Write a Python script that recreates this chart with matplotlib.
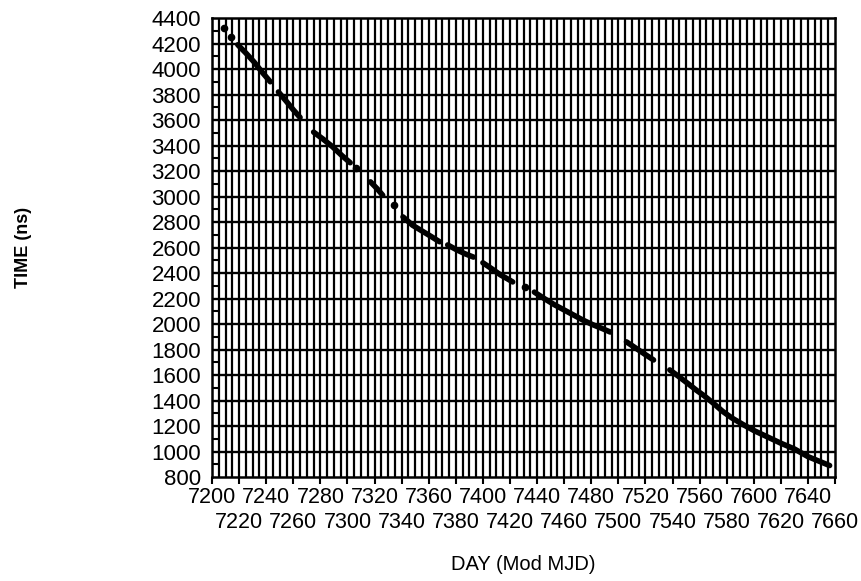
import matplotlib.pyplot as plt
import matplotlib.transforms as mtransforms
import numpy as np

plt.rcParams['font.family'] = ['Liberation Sans', 'DejaVu Sans']

# segment id, day, time (ns)
seg = [0,
       1,
       2, 2, 2, 2, 2,
       3, 3, 3, 3,
       4, 4, 4, 4, 4,
       5,
       6, 6, 6,
       7,
       8, 8, 8, 8, 8,
       9, 9, 9, 9,
       10, 10, 10, 10, 10,
       11,
       12, 12, 12, 12, 12, 12, 12, 12, 12,
       13, 13, 13, 13,
       14, 14, 14, 14, 14, 14, 14, 14, 14, 14, 14, 14, 14, 14, 14, 14]
day = [7209,
       7214,
       7219, 7225, 7231, 7237, 7243,
       7249, 7255, 7260, 7265,
       7275, 7282, 7289, 7296, 7302,
       7306,
       7317, 7322, 7326,
       7334,
       7341, 7348, 7355, 7362, 7368,
       7374, 7381, 7387, 7393,
       7400, 7407, 7413, 7418, 7422,
       7431,
       7438, 7446, 7453, 7460, 7467, 7474, 7481, 7488, 7494,
       7506, 7513, 7520, 7526,
       7538, 7545, 7552, 7558, 7563, 7570, 7577, 7584, 7592, 7600, 7610, 7620,
       7630, 7640, 7648, 7656]
time_ns = [4320,
           4250,
           4190, 4125, 4055, 3975, 3900,
           3820, 3745, 3680, 3620,
           3505, 3450, 3390, 3320, 3265,
           3220,
           3115, 3060, 3010,
           2935,
           2840, 2775, 2730, 2685, 2645,
           2620, 2580, 2550, 2525,
           2480, 2430, 2385, 2355, 2330,
           2290,
           2250, 2195, 2150, 2110, 2070, 2030, 1995, 1965, 1937,
           1860, 1810, 1760, 1718,
           1640, 1585, 1528, 1478, 1440, 1380, 1315, 1262, 1212, 1165, 1115, 1065,
           1020, 960, 925, 890]

xticks_top = list(range(7200, 7661, 40))
xticks_bottom = list(range(7220, 7661, 40))
yticks = list(range(800, 4401, 200))

seg = np.array(seg)
day = np.array(day)
time_ns = np.array(time_ns)

fig = plt.figure(figsize=(8.62, 5.81), dpi=100)
ax = fig.add_axes([0.246, 0.179, 0.7227, 0.790])

# dense graph-paper grid
for x in range(7205, 7660, 5):
    ax.axvline(x, color='black', lw=1.6, zorder=1)
for y in yticks[1:-1]:
    ax.axhline(y, color='black', lw=1.7, zorder=1)

for s in np.unique(seg):
    m = seg == s
    if m.sum() == 1:
        ax.plot(day[m], time_ns[m], 'o', color='black', ms=4.5, zorder=3)
    else:
        ax.plot(day[m], time_ns[m], '-', color='black', lw=4,
                solid_capstyle='round', zorder=3)

ax.set_xlim(7200, 7660)
ax.set_ylim(800, 4400)

# labels alternate between two rows
ax.set_xticks(xticks_top)
ax.set_xticklabels([str(v) for v in xticks_top])
ax.set_xticks(xticks_bottom, minor=True)
ax.set_xticklabels([str(v) for v in xticks_bottom], minor=True)
shift = mtransforms.ScaledTranslation(-0.05, 0, fig.dpi_scale_trans)
for t in ax.get_xticklabels() + ax.get_xticklabels(minor=True):
    t.set_transform(t.get_transform() + shift)
ax.tick_params(axis='x', which='major', direction='out', length=5, width=1.5,
               labelsize=15.5, pad=2)
ax.tick_params(axis='x', which='minor', direction='out', length=5, width=1.5,
               labelsize=15.5, pad=20)

ax.set_yticks(yticks)
ax.set_yticks(list(range(900, 4400, 200)), minor=True)
ax.tick_params(axis='y', which='major', length=0, labelsize=16, pad=8)
ax.tick_params(axis='y', which='minor', direction='in', length=4, width=1.5)

for sp in ax.spines.values():
    sp.set_linewidth(1.8)

ax.set_xlabel("DAY (Mod MJD)", fontsize=14.5, labelpad=16)
ax.set_ylabel("TIME (ns)", fontsize=13, fontweight='bold', labelpad=86)

fig.savefig("out.png", dpi=100)
